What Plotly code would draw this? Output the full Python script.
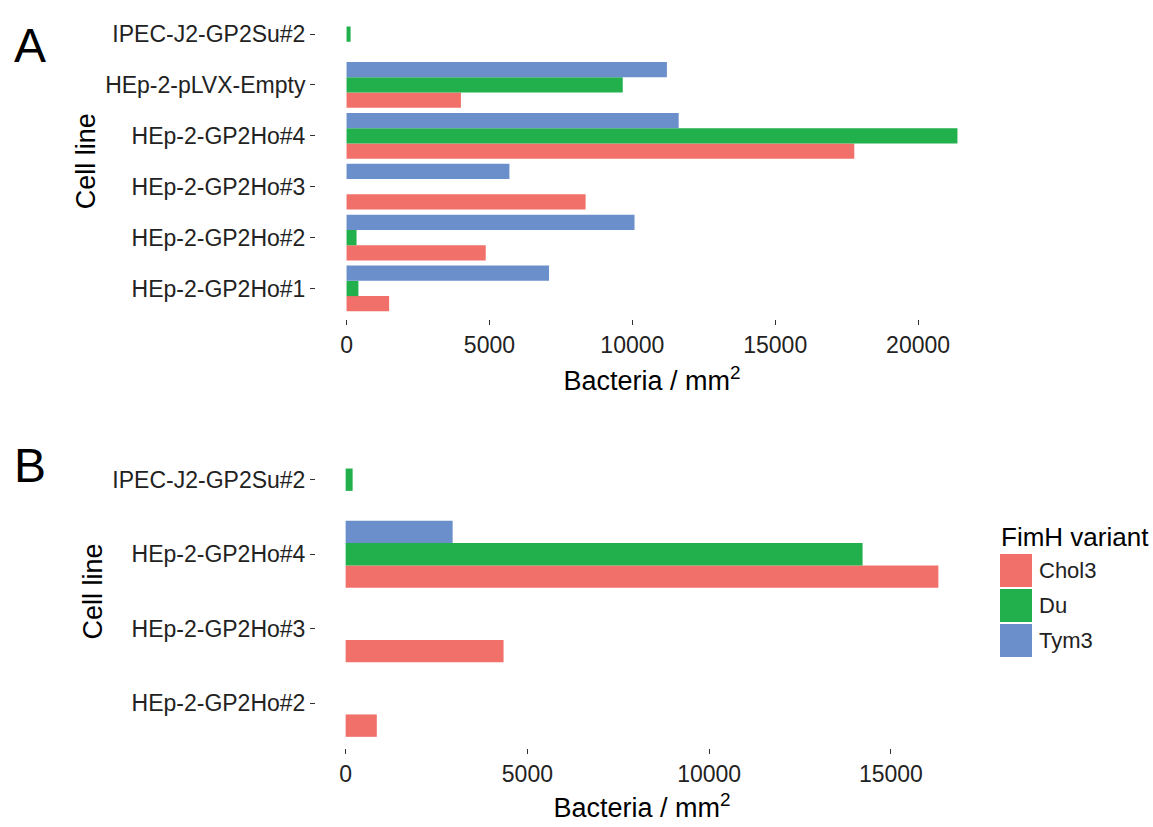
import plotly.graph_objects as go

W, H = 1153, 827

variants = ["Chol3", "Du", "Tym3"]
colors = ["#F1706A", "#21B04C", "#6A8FCB"]

# Panel A (bottom-to-top category order)
cells_a = ["HEp-2-GP2Ho#1", "HEp-2-GP2Ho#2", "HEp-2-GP2Ho#3", "HEp-2-GP2Ho#4",
           "HEp-2-pLVX-Empty", "IPEC-J2-GP2Su#2"]
chol3_a = [1490, 4870, 8365, 17767, 4003, None]
du_a = [415, 350, None, 21377, 9665, 142]
tym3_a = [7085, 10077, 5699, 11622, 11210, None]

# Panel B
cells_b = ["HEp-2-GP2Ho#2", "HEp-2-GP2Ho#3", "HEp-2-GP2Ho#4", "IPEC-J2-GP2Su#2"]
chol3_b = [857, 4345, 16307, None]
du_b = [None, None, 14222, 192]
tym3_b = [None, None, 2944, None]

xticks_a = [0, 5000, 10000, 15000, 20000]
xticks_b = [0, 5000, 10000, 15000]

FONT = "Liberation Sans, Arial, sans-serif"

fig = go.Figure()

for name, col, va, vb in zip(variants, colors, [chol3_a, du_a, tym3_a], [chol3_b, du_b, tym3_b]):
    fig.add_trace(go.Bar(y=cells_a, x=va, orientation="h", name=name,
                         marker=dict(color=col, line=dict(width=0)),
                         xaxis="x", yaxis="y", showlegend=False))
    fig.add_trace(go.Bar(y=cells_b, x=vb, orientation="h", name=name,
                         marker=dict(color=col, line=dict(width=0)),
                         xaxis="x2", yaxis="y2", showlegend=False))


def mx(*lists):
    return max(v for l in lists for v in l if v is not None)


max_a = mx(chol3_a, du_a, tym3_a)
max_b = mx(chol3_b, du_b, tym3_b)


def px_x(a, b):
    return [a / W, b / W]


def px_y(top, bottom):
    return [1 - bottom / H, 1 - top / H]


axis_common = dict(showgrid=False, zeroline=False, showline=False,
                   ticks="outside", ticklen=5, tickwidth=1, tickcolor="#333333",
                   tickfont=dict(family=FONT, size=23, color="#222222"))

TITLE_FONT = dict(family=FONT, size=27, color="black")

fig.update_layout(
    width=W, height=H,
    margin=dict(l=0, r=0, t=0, b=0),
    paper_bgcolor="white", plot_bgcolor="white",
    barmode="group", bargap=0.1, bargroupgap=0,
    font=dict(family=FONT, color="black"),
    xaxis=dict(domain=px_x(316, 988), anchor="y",
               range=[-0.05 * max_a, 1.05 * max_a],
               tickvals=xticks_a, ticktext=[str(t) for t in xticks_a],
               title=dict(text="Bacteria / mm<sup>2</sup>", font=TITLE_FONT, standoff=14),
               **axis_common),
    yaxis=dict(domain=px_y(3.5, 319), anchor="x",
               type="category", categoryorder="array", categoryarray=cells_a,
               range=[-0.6, len(cells_a) - 0.4],
               title=dict(text="Cell line", font=TITLE_FONT, standoff=1),
               **axis_common),
    xaxis2=dict(domain=px_x(316, 968), anchor="y2",
                range=[-0.05 * max_b, 1.05 * max_b],
                tickvals=xticks_b, ticktext=[str(t) for t in xticks_b],
                title=dict(text="Bacteria / mm<sup>2</sup>", font=TITLE_FONT, standoff=12),
                **axis_common),
    yaxis2=dict(domain=px_y(435, 748), anchor="x2",
                type="category", categoryorder="array", categoryarray=cells_b,
                range=[-0.6, len(cells_b) - 0.4],
                title=dict(text="Cell line", font=TITLE_FONT, standoff=1),
                **axis_common),
)

annotations = [
    dict(text="A", x=30 / W, y=1 - 45 / H, xref="paper", yref="paper", showarrow=False,
         font=dict(family=FONT, size=48, color="black"), xanchor="center", yanchor="middle"),
    dict(text="B", x=30 / W, y=1 - 465 / H, xref="paper", yref="paper", showarrow=False,
         font=dict(family=FONT, size=48, color="black"), xanchor="center", yanchor="middle"),
    dict(text="FimH variant", x=999 / W, y=1 - 537 / H, xref="paper", yref="paper", showarrow=False,
         font=dict(family=FONT, size=26, color="black"), xanchor="left", yanchor="middle"),
]

# legend keys (manual legend)
shapes = []
key_top = 553
key_h = 35
for i, (name, col) in enumerate(zip(variants, colors)):
    t = key_top + i * key_h
    shapes.append(dict(type="rect", xref="paper", yref="paper",
                       x0=1000 / W, x1=1032 / W, y0=1 - (t + key_h - 1) / H, y1=1 - (t + 1) / H,
                       fillcolor=col, line=dict(width=0)))
    annotations.append(dict(text=name, x=1037 / W, y=1 - (t + key_h / 2) / H, xref="paper", yref="paper",
                            showarrow=False, font=dict(family=FONT, size=22, color="#222222"),
                            xanchor="left", yanchor="middle"))

fig.update_layout(annotations=annotations, shapes=shapes)

fig.write_html("out.html")
